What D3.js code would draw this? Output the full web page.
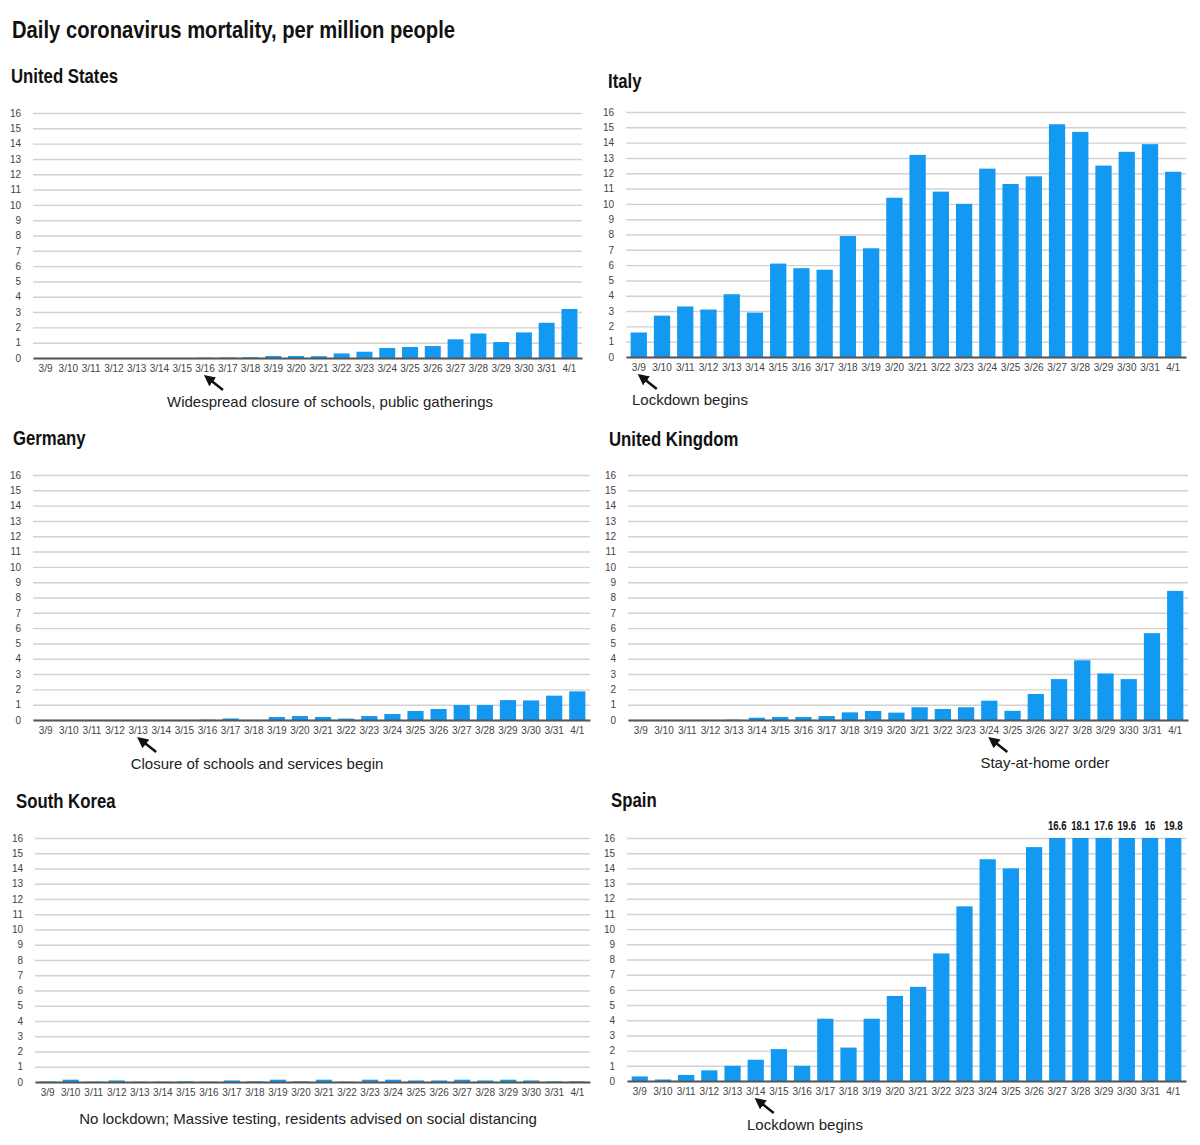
<!DOCTYPE html>
<html>
<head>
<meta charset="utf-8">
<script src="https://cdn.jsdelivr.net/npm/d3@7/dist/d3.min.js"></script>
<style>
  body { margin: 0; background: #fff; }
  .title { font-family: "Liberation Sans", Arial, sans-serif; font-weight: bold; fill: #111; }
  .tick-label { font-family: "Liberation Sans", Arial, sans-serif; font-size: 10px; fill: #444; }
  .note { font-family: "Liberation Sans", Arial, sans-serif; font-size: 15px; fill: #222; }
  .value-label { font-family: "Liberation Sans", Arial, sans-serif; font-size: 12px; font-weight: bold; fill: #111; }
</style>
</head>
<body>
<div id="chart"></div>
<script>
// Dates on every x axis
const dates = ["3/9", "3/10", "3/11", "3/12", "3/13", "3/14", "3/15", "3/16", "3/17", "3/18", "3/19", "3/20",
  "3/21", "3/22", "3/23", "3/24", "3/25", "3/26", "3/27", "3/28", "3/29", "3/30", "3/31", "4/1"];
const yTicks = d3.range(0, 17);

// Deaths per million people
const usValues = [0, 0, 0, 0, 0, 0, 0, 0.02, 0.03, 0.05, 0.13, 0.13, 0.12, 0.3, 0.41, 0.65, 0.72, 0.78, 1.22, 1.6, 1.04, 1.67, 2.3, 3.2];
const italyValues = [1.6, 2.7, 3.3, 3.1, 4.1, 2.9, 6.1, 5.8, 5.7, 7.9, 7.1, 10.4, 13.2, 10.8, 10.0, 12.3, 11.3, 11.8, 15.2, 14.7, 12.5, 13.4, 13.9, 12.1];
const germanyValues = [0, 0, 0, 0, 0, 0, 0, 0.02, 0.1, 0, 0.2, 0.26, 0.2, 0.09, 0.26, 0.39, 0.59, 0.72, 0.98, 0.98, 1.3, 1.28, 1.59, 1.87];
const ukValues = [0, 0, 0, 0, 0.02, 0.15, 0.2, 0.2, 0.26, 0.5, 0.59, 0.48, 0.83, 0.72, 0.83, 1.26, 0.6, 1.7, 2.67, 3.9, 3.04, 2.67, 5.67, 8.43];
const koreaValues = [0.03, 0.15, 0.02, 0.1, 0.02, 0.02, 0.04, 0.02, 0.1, 0.04, 0.15, 0.04, 0.15, 0.02, 0.15, 0.15, 0.1, 0.1, 0.15, 0.1, 0.15, 0.1, 0.04, 0.04];
const spainValues = [0.3, 0.1, 0.4, 0.7, 1.0, 1.4, 2.1, 1.0, 4.1, 2.2, 4.1, 5.6, 6.2, 8.4, 11.5, 14.6, 14.0, 15.4, 16.6, 18.1, 17.6, 19.6, 16, 19.8];

const countries = ["United States", "Italy", "Germany", "United Kingdom", "South Korea", "Spain"];
const notes = [
  "Widespread closure of schools, public gatherings",
  "Lockdown begins",
  "Closure of schools and services begin",
  "Stay-at-home order",
  "No lockdown; Massive testing, residents advised on social distancing",
  "Lockdown begins"
];
const noteDates = ["3/16", "3/9", "3/13", "3/24", null, "3/14"];

const width = 1200;
const height = 1145;
const barColor = "#1399f2";
const narrow = 0.86; // squeeze for the condensed headline face

// where each small chart sits on the page
const layout = [
  { x0: 33, x1: 582, top: 113, base: 358, titleX: 11, titleY: 83, noteX: 330, noteY: 407, anchor: "middle" },
  { x0: 626, x1: 1186, top: 112, base: 357, titleX: 608, titleY: 88, noteX: 632, noteY: 405, anchor: "start" },
  { x0: 33, x1: 590, top: 475, base: 720, titleX: 13, titleY: 445, noteX: 257, noteY: 769, anchor: "middle" },
  { x0: 628, x1: 1188, top: 475, base: 720, titleX: 609, titleY: 446, noteX: 1045, noteY: 768, anchor: "middle" },
  { x0: 35, x1: 590, top: 838, base: 1082, titleX: 16, titleY: 808, noteX: 308, noteY: 1124, anchor: "middle" },
  { x0: 627, x1: 1186, top: 838, base: 1081, titleX: 611, titleY: 807, noteX: 805, noteY: 1130, anchor: "middle" }
];
const series = [usValues, italyValues, germanyValues, ukValues, koreaValues, spainValues];

const svg = d3.select("#chart")
  .append("svg")
  .attr("width", width)
  .attr("height", height);

svg.append("defs").append("marker")
  .attr("id", "arrow")
  .attr("viewBox", "0 0 10 10")
  .attr("refX", 2)
  .attr("refY", 5)
  .attr("markerWidth", 4.5)
  .attr("markerHeight", 4.5)
  .attr("orient", "auto-start-reverse")
  .append("path")
  .attr("d", "M0,0 L10,5 L0,10 Z")
  .attr("fill", "#111");

// Main title
svg.append("text")
  .attr("class", "title")
  .attr("transform", `translate(12,38) scale(${narrow},1)`)
  .style("font-size", "23.5px")
  .text("Daily coronavirus mortality, per million people");

series.forEach((values, i) => {
  const L = layout[i];
  const g = svg.append("g");

  const x = d3.scaleBand()
    .domain(dates)
    .range([L.x0, L.x1])
    .paddingInner(0.3)
    .paddingOuter(0.2);

  const y = d3.scaleLinear()
    .domain([0, 16])
    .range([L.base, L.top])
    .clamp(true);

  // country title
  g.append("text")
    .attr("class", "title")
    .attr("transform", `translate(${L.titleX},${L.titleY}) scale(${narrow},1)`)
    .style("font-size", "19.5px")
    .text(countries[i]);

  // y axis with gridlines
  const yAxis = d3.axisLeft(y)
    .tickValues(yTicks)
    .tickSize(-(L.x1 - L.x0))
    .tickPadding(12)
    .tickFormat(d3.format("d"));

  g.append("g")
    .attr("transform", `translate(${L.x0},0)`)
    .call(yAxis)
    .call(a => a.select(".domain").remove())
    .call(a => a.selectAll(".tick line").attr("stroke", "#d2d2d2").attr("stroke-width", 1.4))
    .call(a => a.selectAll(".tick text").attr("class", "tick-label"));

  // bars
  g.selectAll(".bar")
    .data(values.map((v, k) => ({ date: dates[k], value: v })))
    .enter().append("rect")
    .attr("class", "bar")
    .attr("x", d => x(d.date))
    .attr("y", d => y(d.value))
    .attr("width", x.bandwidth())
    .attr("height", d => L.base - y(d.value))
    .attr("fill", barColor);

  // x axis
  const xAxis = d3.axisBottom(x).tickSize(0).tickPadding(7);
  g.append("g")
    .attr("transform", `translate(0,${L.base})`)
    .call(xAxis)
    .call(a => a.select(".domain").attr("stroke", "#555").attr("stroke-width", 2))
    .call(a => a.selectAll(".tick text").attr("class", "tick-label").attr("fill", "#333"));

  // values past the top of the scale
  g.selectAll(".value-label")
    .data(values.map((v, k) => ({ date: dates[k], value: v })).filter(d => d.value >= 16))
    .enter().append("text")
    .attr("class", "value-label")
    .attr("transform", d => `translate(${x(d.date) + x.bandwidth() / 2},${L.top - 8}) scale(0.8,1)`)
    .attr("text-anchor", "middle")
    .text(d => d.value);

  // annotation
  g.append("text")
    .attr("class", "note")
    .attr("x", L.noteX)
    .attr("y", L.noteY)
    .attr("text-anchor", L.anchor)
    .text(notes[i]);

  if (noteDates[i]) {
    const tipX = x(noteDates[i]) + x.bandwidth() / 2 + 3;
    const tipY = L.base + 20;
    g.append("line")
      .attr("x1", tipX + 15)
      .attr("y1", tipY + 12)
      .attr("x2", tipX + 3)
      .attr("y2", tipY + 2.5)
      .attr("stroke", "#111")
      .attr("stroke-width", 2.5)
      .attr("marker-end", "url(#arrow)");
  }
});
</script>
</body>
</html>
